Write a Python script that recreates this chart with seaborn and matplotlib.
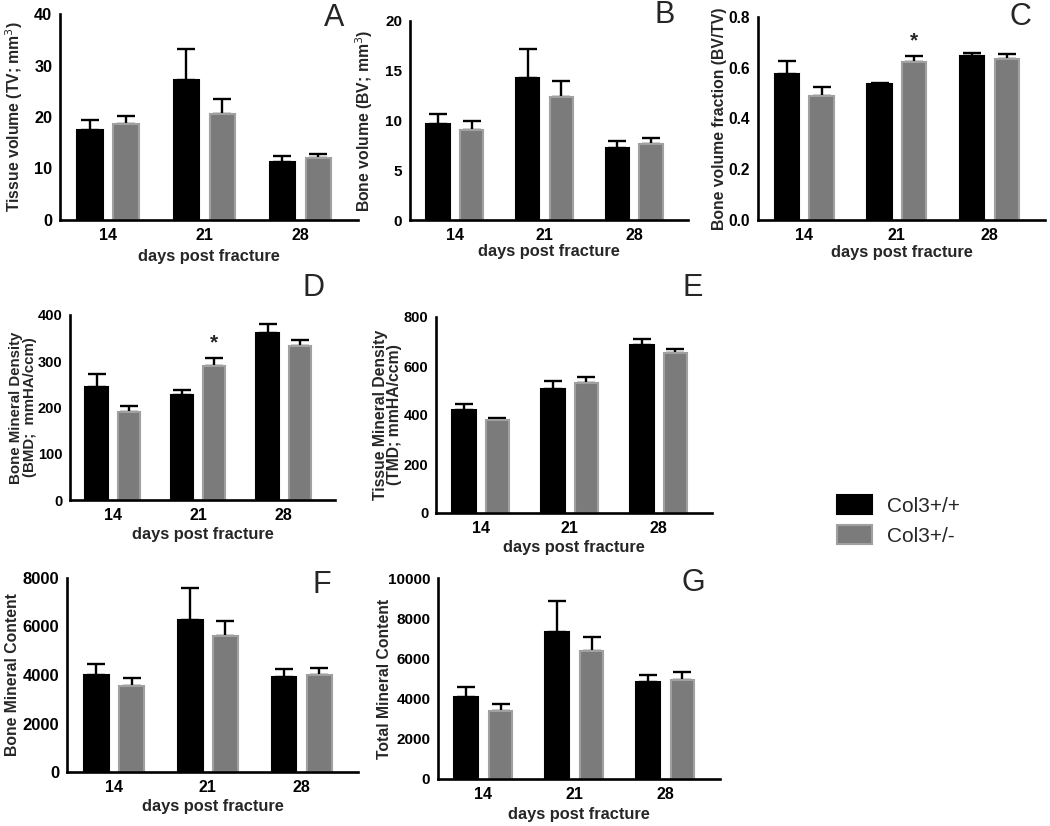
import numpy as np
import pandas as pd
import matplotlib
matplotlib.use("Agg")
import matplotlib.pyplot as plt
from matplotlib.patches import Patch
import seaborn as sns

# data (mean and SEM)
days = ["14", "21", "28"]
genotypes = ["Col3+/+", "Col3+/-"]

tv_wt = [17.4, 27.2, 11.3]
tv_wt_err = [2.1, 6.1, 1.1]
tv_het = [18.7, 20.6, 12.0]
tv_het_err = [1.4, 2.8, 0.8]

bv_wt = [9.6, 14.3, 7.2]
bv_wt_err = [1.1, 2.9, 0.7]
bv_het = [9.0, 12.4, 7.6]
bv_het_err = [0.9, 1.6, 0.6]

bvtv_wt = [0.577, 0.534, 0.648]
bvtv_wt_err = [0.049, 0.006, 0.010]
bvtv_het = [0.490, 0.623, 0.635]
bvtv_het_err = [0.035, 0.022, 0.019]

bmd_wt = [245, 228, 362]
bmd_wt_err = [27, 10, 18]
bmd_het = [190, 290, 334]
bmd_het_err = [14, 18, 11]

tmd_wt = [422, 508, 685]
tmd_wt_err = [21, 29, 26]
tmd_het = [381, 529, 655]
tmd_het_err = [6, 27, 13]

bmc_wt = [4020, 6250, 3930]
bmc_wt_err = [430, 1320, 310]
bmc_het = [3530, 5590, 3980]
bmc_het_err = [350, 640, 300]

tmc_wt = [4100, 7330, 4820]
tmc_wt_err = [480, 1520, 360]
tmc_het = [3400, 6380, 4950]
tmc_het_err = [350, 700, 350]

BLACK = "#000000"
GRAY = "#7b7b7b"
GRAY_EDGE = "#a0a0a0"

sns.set_style("white")
plt.rcParams["font.family"] = ["Liberation Sans", "DejaVu Sans"]

W, H = 1050, 826
fig = plt.figure(figsize=(W / 100, H / 100), dpi=100)


def add_ax(left, top, right, bottom):
    return fig.add_axes([left / W, 1 - bottom / H, (right - left) / W, (bottom - top) / H])


def draw_panel(ax, wt, wt_err, het, het_err, ylabel, ymax, step, fmt, letter,
               letter_pos, ylab_x, xlab_y, tick_fs, ylab_fs=11.3, star=None):
    df = pd.DataFrame({
        "day": days * 2,
        "genotype": [genotypes[0]] * 3 + [genotypes[1]] * 3,
        "value": list(wt) + list(het),
    })
    sns.barplot(data=df, x="day", y="value", hue="genotype", order=days,
                hue_order=genotypes, palette=[BLACK, GRAY], errorbar=None,
                width=0.75, gap=0.3, legend=False, ax=ax, saturation=1,
                linewidth=1.5)
    for cont, errs, col in zip(ax.containers, [wt_err, het_err], [BLACK, GRAY_EDGE]):
        xs = [b.get_x() + b.get_width() / 2 for b in cont]
        ys = [b.get_height() for b in cont]
        for b in cont:
            b.set_edgecolor(col)
        ax.errorbar(xs, ys, yerr=[np.zeros(3), errs], fmt="none", ecolor="black",
                    elinewidth=1.7, capsize=6.5, capthick=1.7, zorder=0)
        if star is not None and col == GRAY_EDGE:
            i = star
            ax.annotate("*", (xs[i], ys[i] + errs[i]), xytext=(0, 4),
                        textcoords="offset points", ha="center", va="bottom",
                        fontsize=15, fontweight="bold")
    ax.set_xlim(-0.5, 2.6)
    ax.set_ylim(0, ymax)
    ax.set_yticks(np.arange(0, ymax + step / 2, step))
    ax.yaxis.set_major_formatter(matplotlib.ticker.FormatStrFormatter(fmt))
    sns.despine(ax=ax)
    for s in ["left", "bottom"]:
        ax.spines[s].set_linewidth(1.9)
        ax.spines[s].set_color("black")
    ax.tick_params(axis="both", direction="out", length=4.5, width=1.8,
                   colors="black", labelsize=tick_fs, pad=1)
    ax.tick_params(axis="x", labelsize=11.5)
    for t in ax.get_xticklabels() + ax.get_yticklabels():
        t.set_fontweight("bold")
    ax.set_xlabel("days post fracture", fontsize=11.8, fontweight="bold")
    ax.xaxis.set_label_coords(0.5, xlab_y)
    ax.set_ylabel(ylabel, fontsize=ylab_fs, fontweight="bold", linespacing=0.95)
    ax.yaxis.set_label_coords(ylab_x, 0.5)
    ax.text(letter_pos[0], letter_pos[1], letter, transform=ax.transAxes,
            ha="center", va="center", fontsize=22)


axA = add_ax(60, 14, 358, 220)
draw_panel(axA, tv_wt, tv_wt_err, tv_het, tv_het_err,
           "Tissue volume (TV; mm$^3$)", 40, 10, "%d", "A", (0.92, 0.98),
           -0.117, -0.141, 11.7)

axB = add_ax(410, 21, 688, 220)
draw_panel(axB, bv_wt, bv_wt_err, bv_het, bv_het_err,
           "Bone volume (BV; mm$^3$)", 20, 5, "%d", "B", (0.917, 1.03),
           -0.126, -0.12, 11)

axC = add_ax(758, 17, 1045, 220)
draw_panel(axC, bvtv_wt, bvtv_wt_err, bvtv_het, bvtv_het_err,
           "Bone volume fraction (BV/TV)", 0.8, 0.2, "%.1f", "C", (0.913, 1.0),
           -0.108, -0.123, 11.2, star=1)

axD = add_ax(70, 315, 335, 500)
draw_panel(axD, bmd_wt, bmd_wt_err, bmd_het, bmd_het_err,
           "Bone Mineral Density\n(BMD;  mmHA/ccm)", 400, 100, "%d", "D",
           (0.918, 1.146), -0.125, -0.146, 10.5, ylab_fs=10.8, star=1)

axE = add_ax(436, 317, 712, 513)
draw_panel(axE, tmd_wt, tmd_wt_err, tmd_het, tmd_het_err,
           "Tissue Mineral Density\n(TMD; mmHA/ccm)", 800, 200, "%d", "E",
           (0.93, 1.148), -0.123, -0.138, 10.5)

axF = add_ax(67, 578, 358, 772)
draw_panel(axF, bmc_wt, bmc_wt_err, bmc_het, bmc_het_err,
           "Bone Mineral Content", 8000, 2000, "%d", "F", (0.876, 0.964),
           -0.16, -0.139, 12)

axG = add_ax(438, 578, 720, 779)
draw_panel(axG, tmc_wt, tmc_wt_err, tmc_het, tmc_het_err,
           "Total Mineral Content", 10000, 2000, "%d", "G", (0.904, 0.975),
           -0.163, -0.139, 11)

handles = [Patch(facecolor=BLACK, edgecolor=BLACK, linewidth=1.5),
           Patch(facecolor=GRAY, edgecolor=GRAY_EDGE, linewidth=1.5)]
fig.legend(handles, genotypes, loc="upper left",
           bbox_to_anchor=(818 / W, 1 - 476 / H), frameon=False, fontsize=15,
           handlelength=1.7, handleheight=1.05, handletextpad=0.7,
           labelspacing=0.45)

fig.savefig("out.png", dpi=100)
